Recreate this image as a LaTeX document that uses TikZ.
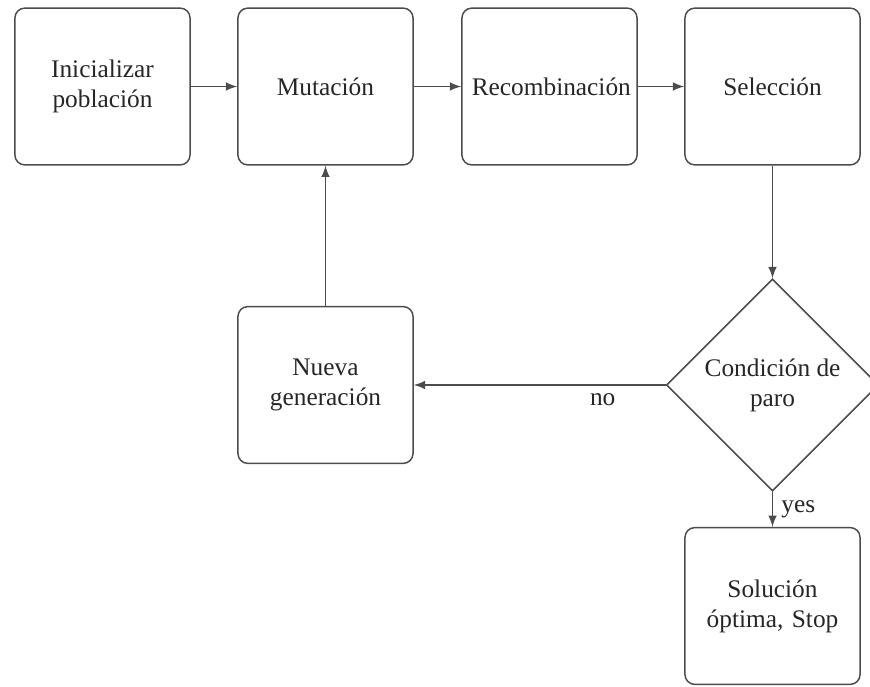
\documentclass[tikz,border=0pt]{standalone}
\usepackage{fontspec}
\setmainfont{Liberation Serif}
\usetikzlibrary{shapes.geometric}

\begin{document}
\begin{tikzpicture}
    \tikzset{
      BoxStyle/.style = { rectangle, rounded corners, draw = black!70,
                          line width = 0.6pt, text = black!85,
                          minimum width = 2.5cm, minimum height = 2.24cm,
                          inner sep = 4pt, text width = 2.22cm, align = center,
                          font = \fontsize{10.3}{12.2}\selectfont },
      DecisionStyle/.style = { diamond, draw = black!70, line width = 0.6pt,
                          text = black!85, aspect = 1, inner sep = 0pt,
                          minimum width = 3.03cm, minimum height = 3.03cm,
                          align = center,
                          font = \fontsize{10.3}{12.2}\selectfont },
      EdgeStyle/.style = { -latex, draw = black!70, line width = 0.6pt },
      LabelStyle/.style = { text = black!85,
                          font = \fontsize{10.3}{12.2}\selectfont } }
    \useasboundingbox (0,0) rectangle (12.4286,-9.814);

      \node[BoxStyle] (init) at (1.464, -1.236) {Inicializar poblaci\'on};
      \node[BoxStyle] (mut)  at (4.65, -1.236)  {Mutaci\'on};
      \node[BoxStyle] (rec)  at (7.85, -1.236)  {Recombinaci\'on};
      \node[BoxStyle] (sel)  at (11.036, -1.236) {Selecci\'on};

      \node[BoxStyle] (nueva) at (4.65, -5.5) {Nueva generaci\'on};
      \node[DecisionStyle] (cond) at (11.036, -5.5) {Condici\'on de\\ paro};
      \node[BoxStyle] (sol) at (11.036, -8.657) {Soluci\'on \'optima, Stop};

      % main loop
      \draw[EdgeStyle] (init) -- (mut);
      \draw[EdgeStyle] (mut) -- (rec);
      \draw[EdgeStyle] (rec) -- (sel);
      \draw[EdgeStyle] (sel) -- (cond);
      \draw[EdgeStyle] (cond) -- node[LabelStyle, near start, below] {no} (nueva);
      \draw[EdgeStyle] (nueva) -- (mut);
      \draw[EdgeStyle] (cond) -- node[LabelStyle, right] {yes} (sol);
\end{tikzpicture}
\end{document}
